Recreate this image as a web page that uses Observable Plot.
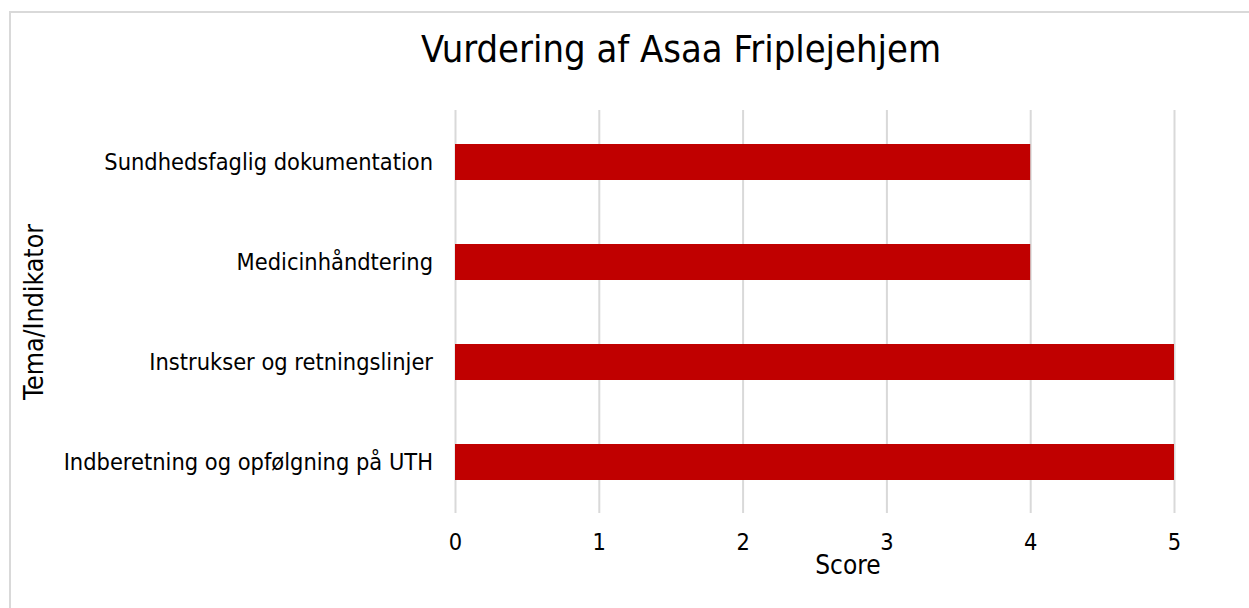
<!DOCTYPE html>
<html>
<head>
<meta charset="utf-8">
<script src="https://cdn.jsdelivr.net/npm/d3@7"></script>
<script src="https://cdn.jsdelivr.net/npm/@observablehq/plot@0.6"></script>
<style>
  html, body { margin: 0; padding: 0; background: #fff; }
  body { width: 1249px; height: 608px; overflow: hidden; position: relative; font-family: "DejaVu Sans Condensed", "DejaVu Sans", sans-serif; }
  #frame { position: absolute; left: 9px; top: 11px; width: 1300px; height: 700px; border: 2px solid #d9d9d9; box-sizing: border-box; pointer-events: none; }
  #title { position: absolute; left: 0; top: 0; width: 1249px; height: 95px; }
  #title div { position: absolute; left: 681px; top: 31px; line-height: 1; transform: translateX(-50%); white-space: nowrap; font-size: 37.8px; color: #000; }
  #chart { position: absolute; left: 0; top: 95px; }
</style>
</head>
<body>
<div id="frame"></div>
<div id="title"><div>Vurdering af Asaa Friplejehjem</div></div>
<div id="chart"></div>
<script>
const categories = [
  "Sundhedsfaglig dokumentation",
  "Medicinhåndtering",
  "Instrukser og retningslinjer",
  "Indberetning og opfølgning på UTH"
];
const scores = [4, 4, 5, 5];
const xTicks = [0, 1, 2, 3, 4, 5];
const xLabel = "Score";
const yLabel = "Tema/Indikator";

const data = categories.map((c, i) => ({category: c, score: scores[i]}));

const chart = Plot.plot({
  width: 1249,
  height: 513,
  marginTop: 15,
  marginBottom: 95,
  marginLeft: 455,
  marginRight: 75,
  style: {fontFamily: '"DejaVu Sans Condensed", "DejaVu Sans", sans-serif', fontSize: "23.4px", color: "#000", background: "transparent", overflow: "visible"},
  x: {domain: [0, 5]},
  y: {domain: categories, paddingInner: 0.643, paddingOuter: 0.3215},
  marks: [
    Plot.gridX(xTicks, {stroke: "#d9d9d9", strokeOpacity: 1, strokeWidth: 2}),
    Plot.barX(data, {x: "score", y: "category", fill: "#c00000"}),
    Plot.axisX(xTicks, {tickSize: 0, tickPadding: 20, label: null, fontSize: 23.4, tickFormat: d => String(d)}),
    Plot.axisY({tickSize: 0, tickPadding: 22.5, label: null, fontSize: 23.4}),
    Plot.text([xLabel], {text: d => d, frameAnchor: "bottom", textAnchor: "middle", dx: 33, dy: 60, fontSize: 26, fill: "#000"}),
    Plot.text([yLabel], {text: d => d, frameAnchor: "left", textAnchor: "middle", rotate: -90, dx: -421, fontSize: 26.5, fill: "#000"})
  ]
});
document.getElementById("chart").appendChild(chart);
</script>
</body>
</html>
